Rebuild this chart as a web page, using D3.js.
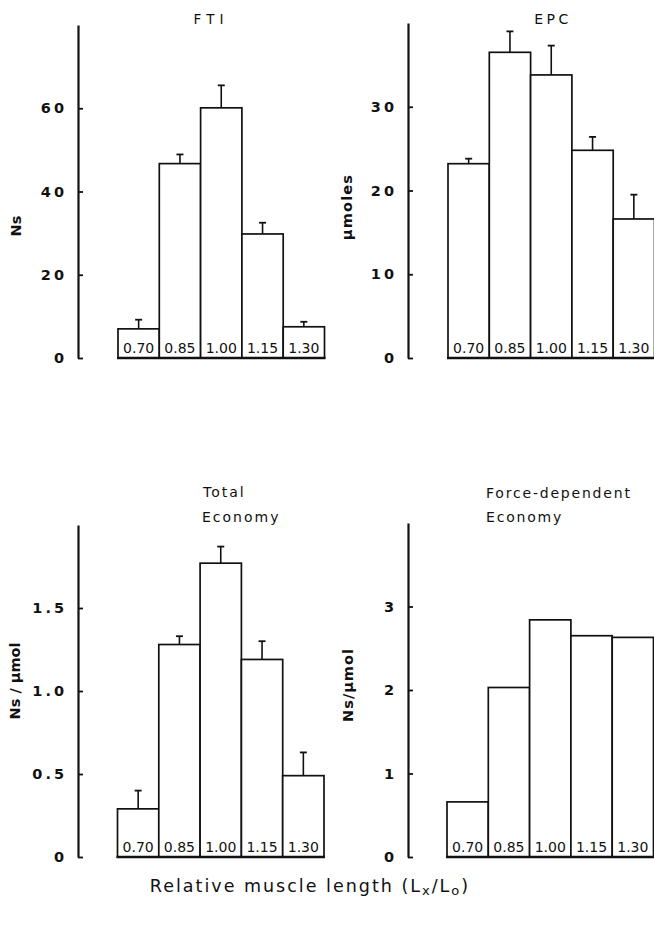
<!DOCTYPE html>
<html>
<head>
<meta charset="utf-8">
<script src="https://cdn.jsdelivr.net/npm/d3@7"></script>
<style>
  html, body { margin: 0; padding: 0; background: #fff; }
  svg { display: block; }
  text { font-family: "DejaVu Sans", sans-serif; fill: #111; }
</style>
</head>
<body>
<svg id="chart" width="654" height="927"></svg>
<script>
// Relative muscle length categories (Lx/Lo)
const lengths = ["0.70", "0.85", "1.00", "1.15", "1.30"];

// Force-time integral (Ns), mean and SE
const ftiMean = [7.0, 46.7, 60.1, 29.8, 7.5];
const ftiSE   = [2.2, 2.2, 5.4, 2.7, 1.2];
const ftiTicks = [0, 20, 40, 60];

// Energy production (µmoles), mean and SE
const epcMean = [23.2, 36.5, 33.8, 24.8, 16.6];
const epcSE   = [0.6, 2.5, 3.5, 1.6, 2.9];
const epcTicks = [0, 10, 20, 30];

// Total economy (Ns/µmol), mean and SE
const totalMean = [0.29, 1.28, 1.77, 1.19, 0.49];
const totalSE   = [0.11, 0.05, 0.10, 0.11, 0.14];
const totalTicks = [0, 0.5, 1.0, 1.5];

// Force-dependent economy (Ns/µmol), means only
const forceMean = [0.66, 2.03, 2.84, 2.65, 2.63];
const forceTicks = [0, 1, 2, 3];

const svg = d3.select("#chart");

const panels = [
  { mean: ftiMean, se: ftiSE, ticks: ftiTicks, yMax: 80, fmt: d3.format("d"),
    axisX: 78, top: 25, bottom: 358, barX: 118, ylabel: "Ns", ylx: 21, yly: 226, ylSpacing: 0 },
  { mean: epcMean, se: epcSE, ticks: epcTicks, yMax: 40, fmt: d3.format("d"),
    axisX: 408, top: 23, bottom: 358, barX: 448, ylabel: "µmoles", ylx: 352, yly: 207, ylSpacing: 1.2 },
  { mean: totalMean, se: totalSE, ticks: totalTicks, yMax: 2, fmt: d => d === 0 ? "0" : d3.format(".1f")(d),
    axisX: 78, top: 525, bottom: 857, barX: 117.5, ylabel: "Ns / µmol", ylx: 20, yly: 681, ylSpacing: 0 },
  { mean: forceMean, se: null, ticks: forceTicks, yMax: 4, fmt: d3.format("d"),
    axisX: 408, top: 523, bottom: 857, barX: 447, ylabel: "Ns/µmol", ylx: 353, yly: 685, ylSpacing: 1 }
];

const bandW = 41.3;

panels.forEach(p => {
  const g = svg.append("g");
  const y = d3.scaleLinear().domain([0, p.yMax]).range([p.bottom, p.top]);
  const x = d3.scaleBand().domain(lengths).range([p.barX, p.barX + bandW * lengths.length]).padding(0);

  // y axis: inward ticks, labels on the left
  const axis = d3.axisLeft(y).tickValues(p.ticks).tickFormat(p.fmt)
    .tickSizeInner(-5).tickSizeOuter(0).tickPadding(11);
  const ag = g.append("g").attr("transform", `translate(${p.axisX},0)`).call(axis);
  ag.select(".domain").attr("stroke", "#111").attr("stroke-width", 2.2);
  ag.selectAll(".tick line").attr("stroke", "#111").attr("stroke-width", 1.8);
  ag.selectAll(".tick text")
    .attr("font-family", "DejaVu Sans, sans-serif")
    .attr("font-size", 14.5).attr("font-weight", "bold")
    .attr("letter-spacing", 3).attr("fill", "#111");

  // bars
  const data = lengths.map((k, i) => ({ k, v: p.mean[i], e: p.se ? p.se[i] : null }));
  g.selectAll("rect.bar").data(data).join("rect")
    .attr("class", "bar")
    .attr("x", d => x(d.k))
    .attr("y", d => y(d.v))
    .attr("width", x.bandwidth())
    .attr("height", d => y(0) - y(d.v))
    .attr("fill", "#fff").attr("stroke", "#111").attr("stroke-width", 1.7);

  // error bars (upper half only)
  if (p.se) {
    const eg = g.selectAll("g.err").data(data).join("g").attr("class", "err");
    eg.append("line")
      .attr("x1", d => x(d.k) + x.bandwidth() / 2).attr("x2", d => x(d.k) + x.bandwidth() / 2)
      .attr("y1", d => y(d.v)).attr("y2", d => y(d.v + d.e))
      .attr("stroke", "#111").attr("stroke-width", 1.6);
    eg.append("line")
      .attr("x1", d => x(d.k) + x.bandwidth() / 2 - 3.5).attr("x2", d => x(d.k) + x.bandwidth() / 2 + 3.5)
      .attr("y1", d => y(d.v + d.e)).attr("y2", d => y(d.v + d.e))
      .attr("stroke", "#111").attr("stroke-width", 1.8);
  }

  // baseline under the bars
  g.append("line")
    .attr("x1", x.range()[0] - 1).attr("x2", x.range()[1] + 1)
    .attr("y1", y(0)).attr("y2", y(0))
    .attr("stroke", "#111").attr("stroke-width", 2.4);

  // category labels inside the bars
  g.selectAll("text.cat").data(lengths).join("text")
    .attr("class", "cat")
    .attr("x", d => x(d) + x.bandwidth() / 2)
    .attr("y", y(0) - 5.5)
    .attr("text-anchor", "middle")
    .attr("font-size", 14)
    .text(d => d);

  // y-axis title
  g.append("text")
    .attr("transform", `translate(${p.ylx},${p.yly}) rotate(-90)`)
    .attr("text-anchor", "middle")
    .attr("font-size", 14.5).attr("font-weight", "bold")
    .attr("letter-spacing", p.ylSpacing)
    .text(p.ylabel);
});

// panel titles
svg.append("text").attr("x", 211).attr("y", 24).attr("text-anchor", "middle")
  .attr("font-size", 13.5).attr("letter-spacing", 5).text("FTI");
svg.append("text").attr("x", 553).attr("y", 24).attr("text-anchor", "middle")
  .attr("font-size", 14).attr("letter-spacing", 3.5).text("EPC");
svg.append("text").attr("x", 203).attr("y", 497)
  .attr("font-size", 14).attr("letter-spacing", 2).text("Total");
svg.append("text").attr("x", 202).attr("y", 522)
  .attr("font-size", 14).attr("letter-spacing", 2).text("Economy");
svg.append("text").attr("x", 486).attr("y", 498)
  .attr("font-size", 14).attr("letter-spacing", 1.8).text("Force-dependent");
svg.append("text").attr("x", 486).attr("y", 522)
  .attr("font-size", 14).attr("letter-spacing", 1.8).text("Economy");

// shared x-axis title
const xt = svg.append("text").attr("x", 310).attr("y", 892).attr("text-anchor", "middle")
  .attr("font-size", 17.5).attr("letter-spacing", 2);
xt.append("tspan").text("Relative muscle length (L");
xt.append("tspan").attr("font-size", 13).attr("dy", 3).text("x");
xt.append("tspan").attr("dy", -3).text("/L");
xt.append("tspan").attr("font-size", 13).attr("dy", 3).text("o");
xt.append("tspan").attr("dy", -3).text(")");
</script>
</body>
</html>
